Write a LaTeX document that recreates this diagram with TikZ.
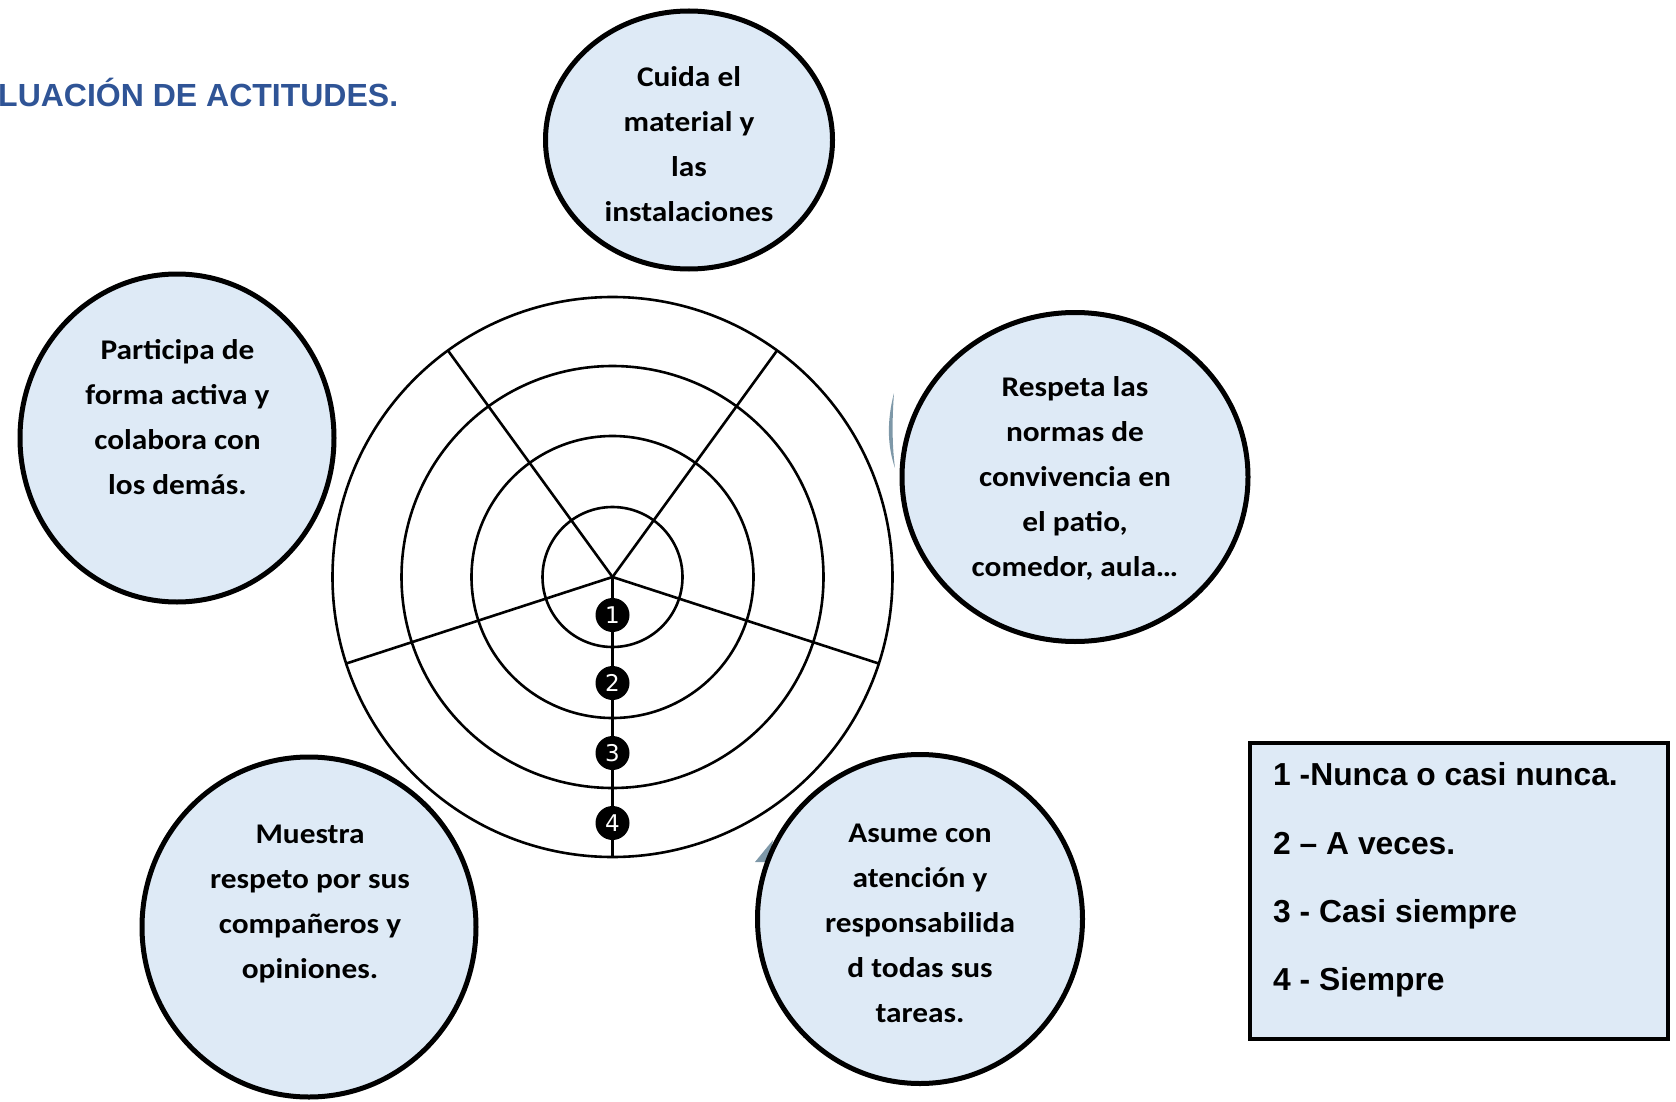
\documentclass[tikz,border=0pt]{standalone}
\usepackage{fontspec}
\usetikzlibrary{shapes.geometric}
\newfontfamily\bubfont[FakeStretch=1.1]{Carlito}
\newfontfamily\keyfont{Liberation Sans}
\newfontfamily\numfont{DejaVu Sans}
\definecolor{bubfill}{HTML}{DEEAF6}
\definecolor{titleblue}{HTML}{2F5496}
\definecolor{ghost}{HTML}{7E98A8}
\begin{document}
\begin{tikzpicture}[x=1pt,y=-1pt,
	ring/.style={line width=2.6pt},
	bubble/.style={ellipse,draw,line width=5pt,fill=bubfill,inner sep=0pt},
	bubtext/.style={align=center,inner sep=0pt,anchor=north,font=\bubfont\bfseries\fontsize{28.5}{45}\selectfont},
	numdot/.style={circle,fill=black,minimum size=34pt,inner sep=0pt,text=white,font=\numfont\fontsize{23}{23}\selectfont},
	keytext/.style={anchor=base west,inner sep=0pt,font=\keyfont\bfseries\fontsize{31.8}{31.8}\selectfont}]
	\useasboundingbox (0,0) rectangle (1676,1102);

	\node[anchor=base west,inner sep=0pt,text=titleblue,font=\keyfont\bfseries\fontsize{32}{32}\selectfont] (title) at (-2,106.7) {LUACIÓN DE ACTITUDES.};

	% diana
	\coordinate (ctr) at (612.5,577);
	\coordinate (rim) at (612.5,857);
	\foreach \r in {70,141,211,280} {
	     \draw[ring] (ctr) circle[radius=\r];
	}
	\foreach \a in {-54,-126,162,18} {
	     \draw[ring] (ctr) -- ++(\a:280);
	}
	\draw[ring] (ctr) -- (rim);
	\foreach \n/\yy in {1/615,2/683,3/753,4/823} {
	     \node[numdot] (num\n) at (612.5,\yy) {\n};
	}

	\fill[ghost] (894,393) .. controls (887,420) and (887,445) .. (895,468) .. controls (892,445) and (892,420) .. cycle;
	\fill[ghost] (755,862) -- (773,840) -- (769,862) -- cycle;

	% burbujas
	\node[bubble,minimum width=287pt,minimum height=258pt] (cuida) at (689,140) {};
	\node[bubble,minimum width=314pt,minimum height=328pt] (participa) at (177,438) {};
	\node[bubble,minimum width=346pt,minimum height=329pt] (respeta) at (1075,477) {};
	\node[bubble,minimum width=334pt,minimum height=340pt] (muestra) at (309,927) {};
	\node[bubble,minimum width=325pt,minimum height=329pt] (asume) at (920,919) {};

	\node[bubtext] (cuidaT) at (689,66.3) {Cuida el\\material y\\las\\instalaciones};
	\node[bubtext] (participaT) at (177.5,339.6) {Participa de\\forma activa y\\colabora con\\los demás.};
	\node[bubtext] (respetaT) at (1075,376.3) {Respeta las\\normas de\\convivencia en\\el patio,\\comedor, aula…};
	\node[bubtext] (muestraT) at (310,825.3) {Muestra\\respeto por sus\\compañeros y\\opiniones.};
	\node[bubtext] (asumeT) at (920,823.7) {Asume con\\atención y\\responsabilida\\d todas sus\\tareas.};

	% leyenda
	\node[draw,line width=4pt,fill=bubfill,minimum width=418pt,minimum height=296pt,inner sep=0pt] (key) at (1459,891) {};
	\foreach \t/\yy [count=\i] in {1 -Nunca o casi nunca./785,2 – A veces./854,3 - Casi siempre/922.5,4 - Siempre/990} {
	     \node[keytext] (key\i) at (1273,\yy) {\t};
	}
\end{tikzpicture}
\end{document}
